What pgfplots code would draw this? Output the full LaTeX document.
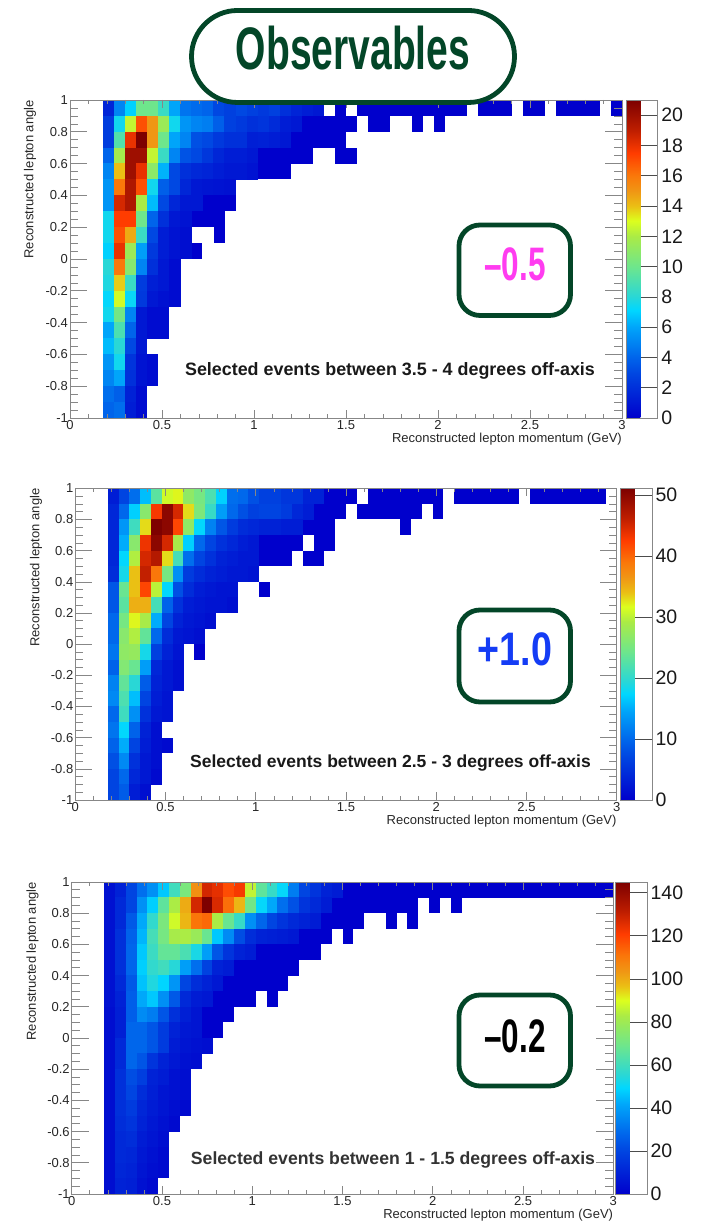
\documentclass[border=0pt]{standalone}
\usepackage{graphicx}
\usepackage{fontspec}
\setmainfont{Liberation Sans}
\usepackage{pgfplots}
\pgfplotsset{compat=1.18}
\definecolor{lowblue}{RGB}{0,0,204}
\definecolor{tickgray}{RGB}{135,135,135}
\definecolor{dgreen}{RGB}{3,70,40}
\pgfdeclareplotmark{cellA}{\pgfpathrectangle{\pgfpoint{-5.62pt}{-8.05pt}}{\pgfpoint{11.24pt}{16.1pt}}\pgfusepathqfill}
\pgfdeclareplotmark{cellB}{\pgfpathrectangle{\pgfpoint{-5.52pt}{-7.9pt}}{\pgfpoint{11.04pt}{15.8pt}}\pgfusepathqfill}
\pgfplotsset{
  colormap={rootpal}{rgb255(0)=(0,0,204) rgb255(140)=(0,70,225) rgb255(190)=(0,100,235) rgb255(286)=(0,165,250) rgb255(340)=(0,215,255) rgb255(380)=(40,215,215) rgb255(476)=(110,230,140) rgb255(571)=(170,235,70) rgb255(620)=(220,255,30) rgb255(667)=(235,190,20) rgb255(714)=(240,150,20) rgb255(762)=(250,120,10) rgb255(833)=(255,60,0) rgb255(905)=(190,30,0) rgb255(1000)=(125,0,0)},
  rootbase/.style={scale only axis, anchor=south west, xmin=0, xmax=3, ymin=-1, ymax=1,
    tick align=inside, axis on top, tick style={color=tickgray, line width=0.6pt},
    minor tick style={color=tickgray, line width=0.6pt},
    axis line style={color=tickgray, line width=0.7pt},
    tick label style={font=\fontsize{13}{13}\selectfont, text=black!85}},
  rootmain/.style={rootbase, xtick=\empty, ytick={-1,-0.8,-0.6,-0.4,-0.2,0,0.2,0.4,0.6,0.8,1},
    yticklabels={-1,-0.8,-0.6,-0.4,-0.2,0,0.2,0.4,0.6,0.8,1}, minor y tick num=3,
    major tick length=17pt, minor tick length=8pt, yticklabel style={xshift=1.5pt},
    ylabel={Reconstructed lepton angle},
    every axis y label/.style={at={(axis description cs:-0.0725,1)}, rotate=90, anchor=east, inner sep=0pt,
      font=\fontsize{13}{13}\selectfont, text=black!85}},
  rootx/.style={rootbase, ytick=\empty, xtick={0,0.5,1,1.5,2,2.5,3}, xticklabels={0,0.5,1,1.5,2,2.5,3},
    minor x tick num=4, major tick length=8pt, minor tick length=4pt, xticklabel style={yshift=1pt},
    xlabel={Reconstructed lepton momentum (GeV)},
    every axis x label/.style={at={(axis description cs:1,0)}, anchor=east, inner sep=0pt, yshift=-21.5pt,
      font=\fontsize{13}{13}\selectfont, text=black!85}},
  rootbar/.style n args={4}{point meta min=0, point meta max=#1, colorbar,
    colorbar style={at={(parent axis.south east)}, anchor=south west, xshift=#2, scale only axis,
      width=31.5pt, height=#3, ytick={#4}, tick align=inside, ytick pos=right, yticklabel pos=right,
      major tick length=17pt, tick style={color=black!70, line width=0.6pt},
      axis line style={color=tickgray, line width=0.6pt},
      yticklabel style={font=\fontsize{19.5}{19.5}\selectfont, /pgf/number format/assume math mode=true, xshift=0pt, text=black!90}}},
}
\newcommand\R[2]{\addplot[cellplot] table[row sep=\\, header=false, x index=0, y expr=#1, meta index=1]{#2};}
\newcommand\Sp[4]{\addplot[fill=lowblue, draw=none, mark=none] coordinates {(#1,#3)(#2,#3)(#2,#4)(#1,#4)} --cycle;}
\begin{document}
\begin{tikzpicture}[x=1pt,y=1pt]
\useasboundingbox (0,0) rectangle (711,1223);
% ---------- panel 1 ----------
\begin{axis}[rootmain, at={(70pt,805pt)}, width=552pt, height=318pt, rootbar={21}{-4.3pt}{318pt}{0,2,4,6,8,10,12,14,16,18,20},
  cellplot/.style={scatter, only marks, mark=cellA, point meta=explicit, scatter/use mapped color={fill=mapped color}}]
\Sp{0.18}{1.38}{1}{0.9}\Sp{1.44}{1.50}{1}{0.9}\Sp{1.56}{2.16}{1}{0.9}\Sp{2.22}{2.40}{1}{0.9}\Sp{2.46}{2.58}{1}{0.9}\Sp{2.64}{2.88}{1}{0.9}\Sp{2.94}{3}{1}{0.9}
\Sp{0.18}{1.56}{0.9}{0.8}\Sp{1.62}{1.74}{0.9}{0.8}\Sp{1.86}{1.92}{0.9}{0.8}\Sp{1.98}{2.04}{0.9}{0.8}
\Sp{0.18}{1.50}{0.8}{0.7}
\Sp{0.18}{1.32}{0.7}{0.6}\Sp{1.44}{1.56}{0.7}{0.6}
\Sp{0.18}{1.20}{0.6}{0.5}
\Sp{0.18}{0.90}{0.5}{0.3}
\Sp{0.18}{0.84}{0.3}{0.2}
\Sp{0.18}{0.66}{0.2}{0.1}\Sp{0.78}{0.84}{0.2}{0.1}
\Sp{0.18}{0.72}{0.1}{0}
\Sp{0.18}{0.60}{0}{-0.3}
\Sp{0.18}{0.54}{-0.3}{-0.5}
\Sp{0.18}{0.42}{-0.5}{-0.6}
\Sp{0.18}{0.48}{-0.6}{-0.8}
\Sp{0.18}{0.42}{-0.8}{-1}
\R{0.95}{0.21 1.5\\0.27 5\\0.33 7\\0.39 10\\0.45 10\\0.51 8.5\\0.57 6\\0.63 4.5\\0.69 4.2\\0.75 4\\0.81 3\\0.87 2.7\\0.93 3\\0.99 2.7\\1.05 2.4\\1.11 2.7\\1.17 2\\1.23 1.5\\1.29 1.2\\1.35 1\\}
\R{0.85}{0.21 2.5\\0.27 7.5\\0.33 12.5\\0.39 17\\0.45 15\\0.51 11.5\\0.57 7.5\\0.63 5.5\\0.69 5\\0.75 4.8\\0.81 3.8\\0.87 2.7\\0.93 2.4\\0.99 2\\1.05 2.2\\1.11 1.8\\1.17 1.2\\1.23 1\\}
\R{0.75}{0.21 2.5\\0.27 9.2\\0.33 18\\0.39 21\\0.45 15\\0.51 10\\0.57 6\\0.63 5\\0.69 3.3\\0.75 3\\0.81 2.4\\0.87 2\\0.93 2\\0.99 1.3\\1.05 1.4\\1.11 1.2\\1.17 1\\}
\R{0.65}{0.21 4\\0.27 11.8\\0.33 20\\0.39 20\\0.45 12.5\\0.51 8.5\\0.57 5\\0.63 3.4\\0.69 3\\0.75 2.3\\0.81 1.6\\0.87 1.2\\0.93 1.2\\0.99 1\\}
\R{0.55}{0.21 5\\0.27 14\\0.33 20\\0.39 18\\0.45 11\\0.51 6.3\\0.57 3\\0.63 2\\0.69 1.7\\0.75 1.5\\0.81 1.2\\0.87 1\\0.93 1\\0.99 0.8\\}
\R{0.45}{0.21 5.5\\0.27 16\\0.33 19.5\\0.39 17\\0.45 7.5\\0.51 3.8\\0.57 3\\0.63 1.6\\0.69 1\\0.75 0.9\\0.81 0.8\\0.87 0.7\\}
\R{0.35}{0.21 5.5\\0.27 18.5\\0.33 19.5\\0.39 12\\0.45 6.5\\0.51 3\\0.57 1.6\\0.63 1\\0.69 1\\}
\R{0.25}{0.21 7.5\\0.27 17.5\\0.33 17.5\\0.39 10\\0.45 4\\0.51 2\\0.57 1\\0.63 0.8\\}
\R{0.15}{0.21 7.5\\0.27 17\\0.33 14.5\\0.39 8.5\\0.45 3\\0.51 1.2\\0.57 0.8\\0.63 0.6\\}
\R{0.05}{0.21 7\\0.27 18\\0.33 11.5\\0.39 5.8\\0.45 2.4\\0.51 1.2\\0.57 0.8\\0.63 0.6\\}
\R{-0.05}{0.21 8\\0.27 16\\0.33 10.8\\0.39 5\\0.45 2\\0.51 1\\0.57 0.5\\}
\R{-0.15}{0.21 7.8\\0.27 13.8\\0.33 8.5\\0.39 2.5\\0.45 1.3\\0.51 1\\0.57 0.5\\}
\R{-0.25}{0.21 7.2\\0.27 12.8\\0.33 7.3\\0.39 2.4\\0.45 1\\0.51 0.7\\0.57 0.5\\}
\R{-0.35}{0.21 7.5\\0.27 10.2\\0.33 5\\0.39 1\\0.45 0.5\\0.51 0.5\\}
\R{-0.45}{0.21 6\\0.27 9\\0.33 4\\0.39 1\\0.45 0.5\\0.51 0.5\\}
\R{-0.55}{0.21 6.5\\0.27 8\\0.33 3\\0.39 1\\}
\R{-0.65}{0.21 5.5\\0.27 7.5\\0.33 2.2\\0.39 0.8\\0.45 0.5\\}
\R{-0.75}{0.21 5\\0.27 6\\0.33 2\\0.39 0.8\\0.45 0.5\\}
\R{-0.85}{0.21 4.3\\0.27 3.8\\0.33 1.4\\0.39 0.5\\}
\R{-0.95}{0.21 4\\0.27 4.3\\0.33 1.2\\0.39 0.5\\}
\end{axis}
\begin{axis}[rootx, at={(70pt,805pt)}, width=552pt, height=318pt]
\end{axis}
% ---------- panel 2 ----------
\begin{axis}[rootmain, at={(75.3pt,423pt)}, width=541.4pt, height=311.7pt, rootbar={51.1}{-4.7pt}{311.7pt}{0,10,20,30,40,50},
  cellplot/.style={scatter, only marks, mark=cellB, point meta=explicit, scatter/use mapped color={fill=mapped color}}]
\Sp{0.18}{1.56}{1}{0.9}\Sp{1.62}{2.04}{1}{0.9}\Sp{2.10}{2.46}{1}{0.9}\Sp{2.52}{2.94}{1}{0.9}
\Sp{0.18}{1.50}{0.9}{0.8}\Sp{1.56}{1.92}{0.9}{0.8}\Sp{1.98}{2.04}{0.9}{0.8}
\Sp{0.18}{1.44}{0.8}{0.7}\Sp{1.80}{1.86}{0.8}{0.7}
\Sp{0.18}{1.26}{0.7}{0.6}\Sp{1.32}{1.44}{0.7}{0.6}
\Sp{0.18}{1.20}{0.6}{0.5}\Sp{1.26}{1.38}{0.6}{0.5}
\Sp{0.18}{1.02}{0.5}{0.4}
\Sp{0.18}{0.90}{0.4}{0.3}\Sp{1.02}{1.08}{0.4}{0.3}
\Sp{0.18}{0.90}{0.3}{0.2}
\Sp{0.18}{0.78}{0.2}{0.1}
\Sp{0.18}{0.72}{0.1}{0}
\Sp{0.18}{0.60}{0}{-0.1}\Sp{0.66}{0.72}{0}{-0.1}
\Sp{0.18}{0.60}{-0.1}{-0.3}
\Sp{0.18}{0.54}{-0.3}{-0.5}
\Sp{0.18}{0.48}{-0.5}{-0.6}
\Sp{0.18}{0.54}{-0.6}{-0.7}
\Sp{0.18}{0.48}{-0.7}{-0.9}
\Sp{0.18}{0.42}{-0.9}{-1}
\R{0.95}{0.21 3\\0.27 7\\0.33 10.5\\0.39 16\\0.45 23\\0.51 31\\0.57 32\\0.63 27\\0.69 25\\0.75 22\\0.81 17\\0.87 10.5\\0.93 10\\0.99 8\\1.05 6.5\\1.11 6.5\\1.17 5.5\\1.23 5.5\\1.29 3.5\\1.35 3.5\\}
\R{0.85}{0.21 4\\0.27 10\\0.33 17\\0.39 26.5\\0.45 43\\0.51 50\\0.57 45\\0.63 33\\0.69 25.5\\0.75 20.5\\0.81 14\\0.87 10\\0.93 8\\0.99 6.5\\1.05 7\\1.11 7\\1.17 6\\1.23 4\\1.29 3\\}
\R{0.75}{0.21 4\\0.27 13.5\\0.33 21\\0.39 33\\0.45 51\\0.51 50\\0.57 42\\0.63 27\\0.69 17.5\\0.75 12\\0.81 8.5\\0.87 6\\0.93 4.5\\0.99 4\\1.05 3.5\\1.11 3.5\\1.17 3\\1.23 3\\}
\R{0.65}{0.21 4\\0.27 15\\0.33 26.5\\0.39 43.5\\0.45 50\\0.51 45\\0.57 29\\0.63 17\\0.69 10\\0.75 7\\0.81 5\\0.87 4\\0.93 3\\0.99 2.5\\}
\R{0.55}{0.21 4\\0.27 17.5\\0.33 29.5\\0.39 45\\0.45 47\\0.51 33\\0.57 21.5\\0.63 10.5\\0.69 7\\0.75 5\\0.81 3.5\\0.87 3\\0.93 2.5\\0.99 2.5\\}
\R{0.45}{0.21 4.5\\0.27 18.5\\0.33 34\\0.39 46\\0.45 39\\0.51 25\\0.57 13\\0.63 6\\0.69 4.5\\0.75 3.5\\0.81 3\\0.87 2.5\\0.93 2.5\\0.99 2\\}
\R{0.35}{0.21 8.5\\0.27 24\\0.33 34\\0.39 42\\0.45 30\\0.51 17.5\\0.57 8\\0.63 4.5\\0.69 3\\0.75 2.5\\0.81 2\\0.87 2\\}
\R{0.25}{0.21 8.5\\0.27 23\\0.33 35\\0.39 35\\0.45 21.5\\0.51 9.5\\0.57 5\\0.63 3\\0.69 2.5\\0.75 2\\0.81 2\\0.87 1.5\\}
\R{0.15}{0.21 10\\0.27 25\\0.33 32\\0.39 29\\0.45 15\\0.51 7\\0.57 3.5\\0.63 2.5\\0.69 2\\0.75 1.5\\}
\R{0.05}{0.21 10\\0.27 26.5\\0.33 29.5\\0.39 23.5\\0.45 10\\0.51 4.5\\0.57 2.5\\0.63 2\\0.69 1.5\\}
\R{-0.05}{0.21 11\\0.27 27\\0.33 27.5\\0.39 18.5\\0.45 6.5\\0.51 3.5\\0.57 2\\}
\R{-0.15}{0.21 9.5\\0.27 26\\0.33 24\\0.39 14\\0.45 4\\0.51 2.5\\0.57 1.5\\}
\R{-0.25}{0.21 12\\0.27 23.5\\0.33 19.5\\0.39 9\\0.45 3.5\\0.51 2.5\\0.57 1.5\\}
\R{-0.35}{0.21 12.5\\0.27 22\\0.33 16\\0.39 7\\0.45 3\\0.51 2\\}
\R{-0.45}{0.21 10\\0.27 21\\0.33 13\\0.39 5\\0.45 2.5\\0.51 2\\}
\R{-0.55}{0.21 11\\0.27 17.5\\0.33 9.5\\0.39 3.5\\0.45 1.5\\}
\R{-0.65}{0.21 9.5\\0.27 15\\0.33 7\\0.39 3\\0.45 1.5\\0.51 1\\}
\R{-0.75}{0.21 8\\0.27 12.5\\0.33 5\\0.39 2.5\\0.45 1.5\\}
\R{-0.85}{0.21 7\\0.27 10\\0.33 4\\0.39 2.5\\0.45 1\\}
\R{-0.95}{0.21 7\\0.27 9\\0.33 3\\0.39 1.5\\}
\end{axis}
\begin{axis}[rootx, at={(75.3pt,423pt)}, width=541.4pt, height=311.7pt]
\end{axis}
% ---------- panel 3 ----------
\begin{axis}[rootmain, at={(71.7pt,29pt)}, width=541.6pt, height=312pt, rootbar={145}{-6.3pt}{312pt}{0,20,40,60,80,100,120,140},
  cellplot/.style={scatter, only marks, mark=cellB, point meta=explicit, scatter/use mapped color={fill=mapped color}}]
\Sp{0.18}{3}{1}{0.9}
\Sp{0.18}{1.92}{0.9}{0.8}\Sp{1.98}{2.04}{0.9}{0.8}\Sp{2.10}{2.16}{0.9}{0.8}
\Sp{0.18}{1.62}{0.8}{0.7}\Sp{1.74}{1.80}{0.8}{0.7}\Sp{1.86}{1.92}{0.8}{0.7}
\Sp{0.18}{1.44}{0.7}{0.6}\Sp{1.50}{1.56}{0.7}{0.6}
\Sp{0.18}{1.38}{0.6}{0.5}
\Sp{0.18}{1.26}{0.5}{0.4}
\Sp{0.18}{1.20}{0.4}{0.3}
\Sp{0.18}{1.02}{0.3}{0.2}\Sp{1.08}{1.14}{0.3}{0.2}
\Sp{0.18}{0.90}{0.2}{0.1}
\Sp{0.18}{0.84}{0.1}{0}
\Sp{0.18}{0.78}{0}{-0.1}
\Sp{0.18}{0.72}{-0.1}{-0.2}
\Sp{0.18}{0.66}{-0.2}{-0.5}
\Sp{0.18}{0.60}{-0.5}{-0.6}
\Sp{0.18}{0.54}{-0.6}{-0.9}
\Sp{0.18}{0.48}{-0.9}{-1}
\R{0.95}{0.21 5\\0.27 10\\0.33 20\\0.39 30\\0.45 37\\0.51 47\\0.57 60\\0.63 72\\0.69 105\\0.75 128\\0.81 125\\0.87 118\\0.93 122\\0.99 86\\1.05 66\\1.11 58\\1.17 50\\1.23 33\\1.29 20\\1.35 15\\1.41 10\\1.47 8\\}
\R{0.85}{0.21 5\\0.27 12\\0.33 20\\0.39 37\\0.45 48\\0.51 66\\0.57 83\\0.63 100\\0.69 128\\0.75 145\\0.81 127\\0.87 112\\0.93 98\\0.99 70\\1.05 50\\1.11 42\\1.17 30\\1.23 23\\1.29 15\\1.35 12\\1.41 8\\}
\R{0.75}{0.21 5\\0.27 12\\0.33 25\\0.39 42\\0.45 57\\0.51 72\\0.57 88\\0.63 98\\0.69 111\\0.75 113\\0.81 83\\0.87 68\\0.93 58\\0.99 37\\1.05 28\\1.11 20\\1.17 15\\1.23 12\\1.29 10\\1.35 8\\}
\R{0.65}{0.21 5\\0.27 14\\0.33 27\\0.39 44\\0.45 61\\0.51 71\\0.57 82\\0.63 83\\0.69 79\\0.75 68\\0.81 47\\0.87 36\\0.93 22\\0.99 13\\1.05 10\\1.11 9\\1.17 8\\1.23 7\\}
\R{0.55}{0.21 5\\0.27 14\\0.33 28\\0.39 47\\0.45 59\\0.51 67\\0.57 67\\0.63 62\\0.69 53\\0.75 40\\0.81 24\\0.87 15\\0.93 10\\0.99 8\\}
\R{0.45}{0.21 5\\0.27 14\\0.33 28\\0.39 48\\0.45 57\\0.51 60\\0.57 55\\0.63 40\\0.69 30\\0.75 19\\0.81 10\\0.87 8\\}
\R{0.35}{0.21 5\\0.27 12\\0.33 25\\0.39 46\\0.45 54\\0.51 49\\0.57 38\\0.63 20\\0.69 13\\0.75 10\\0.81 7\\}
\R{0.25}{0.21 5\\0.27 10\\0.33 26\\0.39 42\\0.45 47\\0.51 37\\0.57 25\\0.63 12\\0.69 8\\0.75 7\\}
\R{0.15}{0.21 4\\0.27 9\\0.33 26\\0.39 36\\0.45 33\\0.51 24\\0.57 14\\0.63 9\\0.69 6\\}
\R{0.05}{0.21 4\\0.27 9\\0.33 28\\0.39 28\\0.45 24\\0.51 17\\0.57 10\\0.63 7\\0.69 6\\}
\R{-0.05}{0.21 4\\0.27 12\\0.33 28\\0.39 28\\0.45 24\\0.51 17\\0.57 8\\0.63 6\\0.69 5\\0.75 4\\}
\R{-0.15}{0.21 4\\0.27 12\\0.33 28\\0.39 24\\0.45 15\\0.51 10\\0.57 7\\0.63 5\\0.69 4\\}
\R{-0.25}{0.21 4\\0.27 14\\0.33 22\\0.39 18\\0.45 10\\0.51 8\\0.57 5\\0.63 4\\}
\R{-0.35}{0.21 4\\0.27 14\\0.33 20\\0.39 13\\0.45 9\\0.51 6\\0.57 5\\0.63 4\\}
\R{-0.45}{0.21 4\\0.27 14\\0.33 17\\0.39 11\\0.45 8\\0.51 6\\0.57 4\\0.63 3\\}
\R{-0.55}{0.21 4\\0.27 13\\0.33 15\\0.39 10\\0.45 7\\0.51 5\\0.57 3\\}
\R{-0.65}{0.21 4\\0.27 12\\0.33 13\\0.39 8\\0.45 6\\0.51 4\\}
\R{-0.75}{0.21 4\\0.27 12\\0.33 11\\0.39 7\\0.45 5\\0.51 3\\}
\R{-0.85}{0.21 4\\0.27 11\\0.33 10\\0.39 6\\0.45 4\\0.51 3\\}
\R{-0.95}{0.21 4\\0.27 10\\0.33 9\\0.39 5\\0.45 3\\}
\end{axis}
\begin{axis}[rootx, at={(71.7pt,29pt)}, width=541.6pt, height=312pt]
\end{axis}
% ---------- annotations ----------
\tikzset{note/.style={text=black!90, inner sep=0pt},
  pillbox/.style={draw=dgreen, line width=4.8pt, fill=white}}
\node[note, font=\fontsize{17.9}{17.9}\selectfont\bfseries] at (390,852) {Selected events between 3.5 - 4 degrees off-axis};
\node[note, font=\fontsize{17.5}{17.5}\selectfont\bfseries] at (390.5,460) {Selected events between 2.5 - 3 degrees off-axis};
\node[note, font=\fontsize{17.65}{17.65}\selectfont\bfseries, text=black!80] at (393,63) {Selected events between 1 - 1.5 degrees off-axis};
\draw[pillbox, rounded corners=46pt] (191.5,1120.5) rectangle (514.5,1212.5);
\node[text=dgreen, inner sep=0pt] at (353,1175) {\scalebox{0.65}[1]{\fontsize{60}{60}\selectfont\bfseries Observables}};
\draw[pillbox, rounded corners=21pt] (459,907.5) rectangle (570.5,998);
\draw[pillbox, rounded corners=21pt] (459,521) rectangle (570.5,613);
\draw[pillbox, rounded corners=21pt] (459,137) rectangle (570.5,228);
\node[text={rgb,255:red,255;green,60;blue,240}, inner sep=0pt] at (515,959) {\scalebox{0.67}[1]{\fontsize{47}{47}\selectfont\bfseries –0.5}};
\node[text={rgb,255:red,20;green,60;blue,245}, inner sep=0pt] at (515,574) {\scalebox{0.8}[1]{\fontsize{47}{47}\selectfont\bfseries +1.0}};
\node[text=black, inner sep=0pt] at (515,187) {\scalebox{0.67}[1]{\fontsize{47}{47}\selectfont\bfseries –0.2}};
\end{tikzpicture}
\end{document}
